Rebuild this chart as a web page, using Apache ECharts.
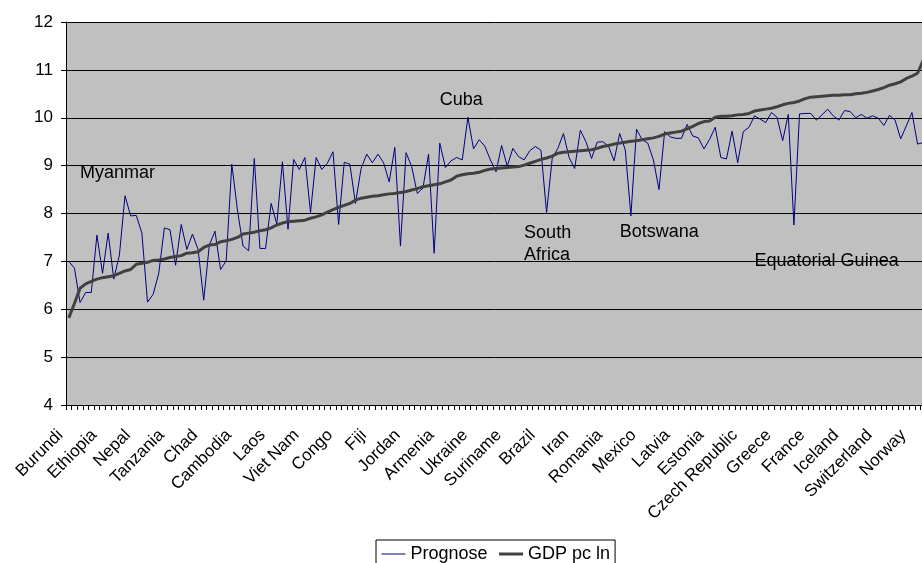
<!DOCTYPE html>
<html>
<head>
<meta charset="utf-8">
<script src="https://cdn.jsdelivr.net/npm/echarts@6/dist/echarts.min.js"></script>
<style>
  html, body { margin: 0; padding: 0; background: #fff; }
  #main { width: 922px; height: 563px; }
</style>
</head>
<body>
<div id="main"></div>
<script>
// labelled countries, one every 6 categories
var countryLabels = ['Burundi', 'Ethiopia', 'Nepal', 'Tanzania', 'Chad', 'Cambodia', 'Laos',
  'Viet Nam', 'Congo', 'Fiji', 'Jordan', 'Armenia', 'Ukraine', 'Suriname', 'Brazil', 'Iran',
  'Romania', 'Mexico', 'Latvia', 'Estonia', 'Czech Republic', 'Greece', 'France', 'Iceland',
  'Switzerland', 'Norway'];

var prognose = [
  7.00, 6.86, 6.14, 6.35, 6.35, 7.55, 6.75, 7.59, 6.63, 7.13,
  8.37, 7.95, 7.96, 7.59, 6.15, 6.31, 6.75, 7.70, 7.66, 6.92,
  7.77, 7.25, 7.57, 7.25, 6.19, 7.34, 7.63, 6.83, 7.01, 9.03,
  8.07, 7.32, 7.22, 9.15, 7.27, 7.27, 8.21, 7.78, 9.08, 7.67,
  9.13, 8.92, 9.17, 8.02, 9.17, 8.92, 9.05, 9.29, 7.77, 9.07,
  9.03, 8.21, 8.94, 9.24, 9.06, 9.24, 9.06, 8.66, 9.38, 7.32,
  9.27, 8.98, 8.42, 8.53, 9.24, 7.17, 9.47, 8.96, 9.10, 9.17,
  9.12, 10.01, 9.35, 9.54, 9.41, 9.12, 8.87, 9.42, 8.99, 9.36,
  9.19, 9.12, 9.31, 9.40, 9.32, 8.02, 9.15, 9.36, 9.67, 9.17,
  8.94, 9.74, 9.50, 9.15, 9.49, 9.50, 9.41, 9.10, 9.67, 9.33,
  7.95, 9.76, 9.54, 9.47, 9.12, 8.50, 9.71, 9.60, 9.57, 9.57,
  9.86, 9.62, 9.58, 9.35, 9.55, 9.80, 9.17, 9.14, 9.72, 9.06,
  9.71, 9.80, 10.04, 9.97, 9.90, 10.11, 10.01, 9.52, 10.07, 7.76,
  10.08, 10.09, 10.09, 9.95, 10.06, 10.18, 10.04, 9.95, 10.15, 10.13,
  10.00, 10.07, 9.99, 10.04, 9.99, 9.84, 10.05, 9.95, 9.56, 9.83,
  10.11, 9.45, 9.48
];

var gdpLn = [
  5.82, 6.12, 6.44, 6.53, 6.58, 6.63, 6.66, 6.68, 6.70, 6.75,
  6.80, 6.83, 6.94, 6.96, 6.98, 7.02, 7.03, 7.05, 7.08, 7.10,
  7.12, 7.17, 7.18, 7.20, 7.29, 7.34, 7.35, 7.41, 7.43, 7.46,
  7.50, 7.57, 7.59, 7.61, 7.64, 7.66, 7.70, 7.76, 7.80, 7.83,
  7.84, 7.85, 7.86, 7.90, 7.93, 7.97, 8.03, 8.08, 8.13, 8.17,
  8.21, 8.28, 8.32, 8.34, 8.36, 8.37, 8.39, 8.41, 8.42, 8.44,
  8.46, 8.49, 8.52, 8.56, 8.58, 8.60, 8.62, 8.66, 8.70, 8.78,
  8.81, 8.83, 8.84, 8.86, 8.90, 8.93, 8.94, 8.95, 8.96, 8.97,
  8.98, 9.01, 9.05, 9.09, 9.13, 9.16, 9.20, 9.26, 9.28, 9.29,
  9.30, 9.31, 9.32, 9.33, 9.36, 9.40, 9.42, 9.45, 9.47, 9.49,
  9.51, 9.52, 9.54, 9.56, 9.58, 9.61, 9.66, 9.68, 9.70, 9.72,
  9.77, 9.82, 9.88, 9.92, 9.93, 10.01, 10.03, 10.03, 10.04, 10.06,
  10.07, 10.09, 10.14, 10.16, 10.18, 10.20, 10.23, 10.27, 10.30, 10.32,
  10.35, 10.40, 10.43, 10.44, 10.45, 10.46, 10.47, 10.47, 10.48, 10.48,
  10.50, 10.51, 10.53, 10.56, 10.59, 10.63, 10.68, 10.71, 10.75, 10.82,
  10.87, 10.93, 11.20
];

// annotated outliers: name, category position, value
var notes = [
  ['Myanmar', 1.9, 8.85],
  ['Cuba', 66.3, 10.37],
  ['South\nAfrica', 81.3, 7.36],
  ['Botswana', 97.5, 7.61],
  ['Equatorial Guinea', 122.4, 7.01]
];

var categories = prognose.map(function (v, i) {
  return i % 6 === 0 && countryLabels[i / 6] ? countryLabels[i / 6] : '';
});

var font = 'Liberation Sans, Arial, sans-serif';
var chart = echarts.init(document.getElementById('main'));

var option = {
  animation: false,
  backgroundColor: '#fff',
  textStyle: { fontFamily: font },
  grid: {
    left: 66,
    width: 860,
    top: 22,
    bottom: 158,
    outerBoundsMode: 'none',
    containLabel: false,
    show: true,
    backgroundColor: '#c0c0c0',
    borderWidth: 0
  },
  legend: {
    left: 376,
    top: 540,
    padding: [5, 5, 5, 5],
    itemWidth: 24,
    itemHeight: 14,
    itemGap: 10,
    borderColor: '#000',
    borderWidth: 1,
    backgroundColor: '#fff',
    textStyle: { fontSize: 18, color: '#000', fontFamily: font },
    data: [
      { name: 'Prognose', lineStyle: { width: 1 }, itemStyle: { opacity: 0 } },
      { name: 'GDP pc ln', lineStyle: { width: 3 }, itemStyle: { opacity: 0 } }
    ]
  },
  xAxis: {
    type: 'category',
    data: categories,
    boundaryGap: true,
    axisLine: { lineStyle: { color: '#000', width: 1 } },
    axisTick: { show: true, interval: 0, length: 5, lineStyle: { color: '#000', width: 1 } },
    axisLabel: {
      interval: 5,
      rotate: 45,
      margin: 19,
      padding: [0, 12, 0, 0],
      fontSize: 17,
      color: '#000',
      fontFamily: font
    },
    splitLine: { show: false }
  },
  yAxis: {
    type: 'value',
    min: 4,
    max: 12,
    interval: 1,
    axisLine: { show: true, lineStyle: { color: '#000' } },
    axisTick: { show: true, length: 5, lineStyle: { color: '#000' } },
    axisLabel: { fontSize: 17, color: '#000', margin: 13, fontFamily: font },
    splitLine: { lineStyle: { color: '#000', width: 1 } }
  },
  series: [
    {
      name: 'Prognose',
      type: 'line',
      data: prognose,
      symbol: 'none',
      lineStyle: { color: '#000080', width: 1 },
      itemStyle: { color: '#000080' },
      markPoint: {
        symbol: 'rect',
        symbolSize: 1,
        silent: true,
        itemStyle: { color: 'rgba(0,0,0,0)' },
        label: {
          show: true,
          position: 'inside',
          align: 'left',
          verticalAlign: 'middle',
          formatter: '{b}',
          fontSize: 18,
          lineHeight: 22,
          color: '#000',
          fontFamily: font
        },
        data: notes.map(function (n) {
          return { name: n[0], coord: [n[1], n[2]] };
        })
      }
    },
    {
      name: 'GDP pc ln',
      type: 'line',
      data: gdpLn,
      symbol: 'none',
      lineStyle: { color: '#404040', width: 3 },
      itemStyle: { color: '#404040' }
    }
  ]
};

chart.setOption(option);
</script>
</body>
</html>
